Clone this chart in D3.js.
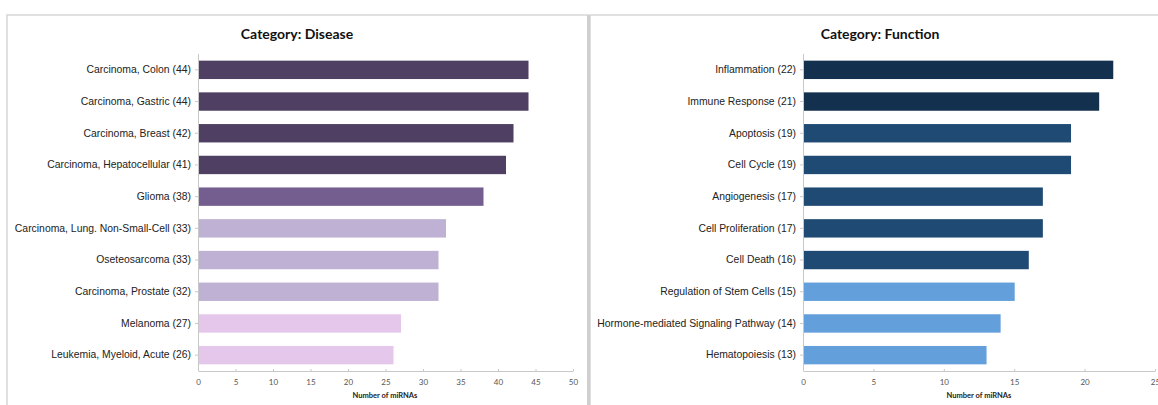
<!DOCTYPE html>
<html>
<head>
<meta charset="utf-8">
<script src="https://cdn.jsdelivr.net/npm/d3@7"></script>
<style>
  html, body { margin: 0; padding: 0; background: #fff; }
  svg { display: block; }
</style>
</head>
<body>
<svg id="chart" width="1158" height="405"></svg>
<script>
// ---- data ----
const diseaseCategories = [
  "Carcinoma, Colon (44)", "Carcinoma, Gastric (44)", "Carcinoma, Breast (42)",
  "Carcinoma, Hepatocellular (41)", "Glioma (38)", "Carcinoma, Lung. Non-Small-Cell (33)",
  "Oseteosarcoma (33)", "Carcinoma, Prostate (32)", "Melanoma (27)", "Leukemia, Myeloid, Acute (26)"
];
const diseaseValues = [44, 44, 42, 41, 38, 33, 32, 32, 27, 26];
const diseaseTicks = [0, 5, 10, 15, 20, 25, 30, 35, 40, 45, 50];

const functionCategories = [
  "Inflammation (22)", "Immune Response (21)", "Apoptosis (19)", "Cell Cycle (19)",
  "Angiogenesis (17)", "Cell Proliferation (17)", "Cell Death (16)",
  "Regulation of Stem Cells (15)", "Hormone-mediated Signaling Pathway (14)", "Hematopoiesis (13)"
];
const functionValues = [22, 21, 19, 19, 17, 17, 16, 15, 14, 13];
const functionTicks = [0, 5, 10, 15, 20, 25];

const titles = ["Category: Disease", "Category: Function"];
const axisTitle = "Number of miRNAs";

// ---- styles ----
const diseaseColors = ["#4f3f63", "#4f3f63", "#4f3f63", "#4f3f63", "#735e8f",
                       "#bfb1d3", "#bfb1d3", "#bfb1d3", "#e4c7ea", "#e4c7ea"];
const functionColors = ["#14304f", "#14304f", "#1f4a73", "#1f4a73", "#1f4a73",
                        "#1f4a73", "#1f4a73", "#629fdb", "#629fdb", "#629fdb"];

const svg = d3.select("#chart");

// panel frames
svg.append("rect").attr("x", 7).attr("y", 15).attr("width", 581).attr("height", 400)
  .attr("fill", "none").attr("stroke", "#d6d6d6").attr("stroke-width", 1.5);
svg.append("rect").attr("x", 590).attr("y", 15).attr("width", 600).attr("height", 400)
  .attr("fill", "none").attr("stroke", "#d6d6d6").attr("stroke-width", 1.5);
svg.append("line").attr("x1", 588.5).attr("x2", 588.5).attr("y1", 15).attr("y2", 405)
  .attr("stroke", "#cfcfcf").attr("stroke-width", 3);

function panel(cfg) {
  const g = svg.append("g");
  const x = d3.scaleLinear().domain(cfg.domain).range(cfg.xr);
  const y = d3.scaleBand().domain(cfg.cats).range([54, 371]).paddingInner(0.42).paddingOuter(0.21);

  g.append("text").attr("x", cfg.titleX).attr("y", 39).attr("text-anchor", "middle")
    .attr("font-family", "Lato, 'Open Sans', sans-serif").attr("font-weight", "bold")
    .attr("font-size", 14).attr("fill", "#111").text(cfg.title);

  g.selectAll("rect.bar").data(cfg.values).enter().append("rect")
    .attr("class", "bar")
    .attr("x", x(0) + 0.5)
    .attr("y", (d, i) => y(cfg.cats[i]))
    .attr("width", d => x(d) - x(0))
    .attr("height", y.bandwidth())
    .attr("fill", (d, i) => cfg.colors[i]);

  // y axis
  const ya = g.append("g").attr("transform", `translate(${x(0)},0)`)
    .call(d3.axisLeft(y).tickSizeInner(3).tickSizeOuter(0).tickPadding(4));
  ya.select(".domain").attr("stroke", "#c8c8c8").attr("d", `M0.5,54V371`);
  ya.selectAll(".tick line").attr("stroke", "#c8c8c8");
  ya.selectAll(".tick text").attr("font-family", "'Liberation Sans', Arial, sans-serif")
    .attr("font-size", 10.4).attr("fill", "#222");

  // x axis
  const xa = g.append("g").attr("transform", `translate(0,371)`)
    .call(d3.axisBottom(x).tickValues(cfg.ticks).tickSizeInner(-2).tickSizeOuter(0).tickPadding(8));
  xa.select(".domain").attr("stroke", "#c8c8c8");
  xa.selectAll(".tick line").attr("stroke", "#c8c8c8");
  xa.selectAll(".tick text").attr("font-family", "Lato, 'Open Sans', sans-serif")
    .attr("font-size", 8).attr("fill", "#555");

  g.append("text").attr("x", cfg.axisTitleX).attr("y", 398).attr("text-anchor", "middle")
    .attr("font-family", "Lato, 'Open Sans', sans-serif").attr("font-weight", "bold")
    .attr("font-size", 7.5).attr("fill", "#222").text(axisTitle);
}

panel({ cats: diseaseCategories, values: diseaseValues, ticks: diseaseTicks,
        domain: [0, 50], xr: [198, 573], colors: diseaseColors, title: titles[0],
        titleX: 297, axisTitleX: 385 });
panel({ cats: functionCategories, values: functionValues, ticks: functionTicks,
        domain: [0, 25], xr: [803, 1155], colors: functionColors, title: titles[1],
        titleX: 880, axisTitleX: 979 });
</script>
</body>
</html>
